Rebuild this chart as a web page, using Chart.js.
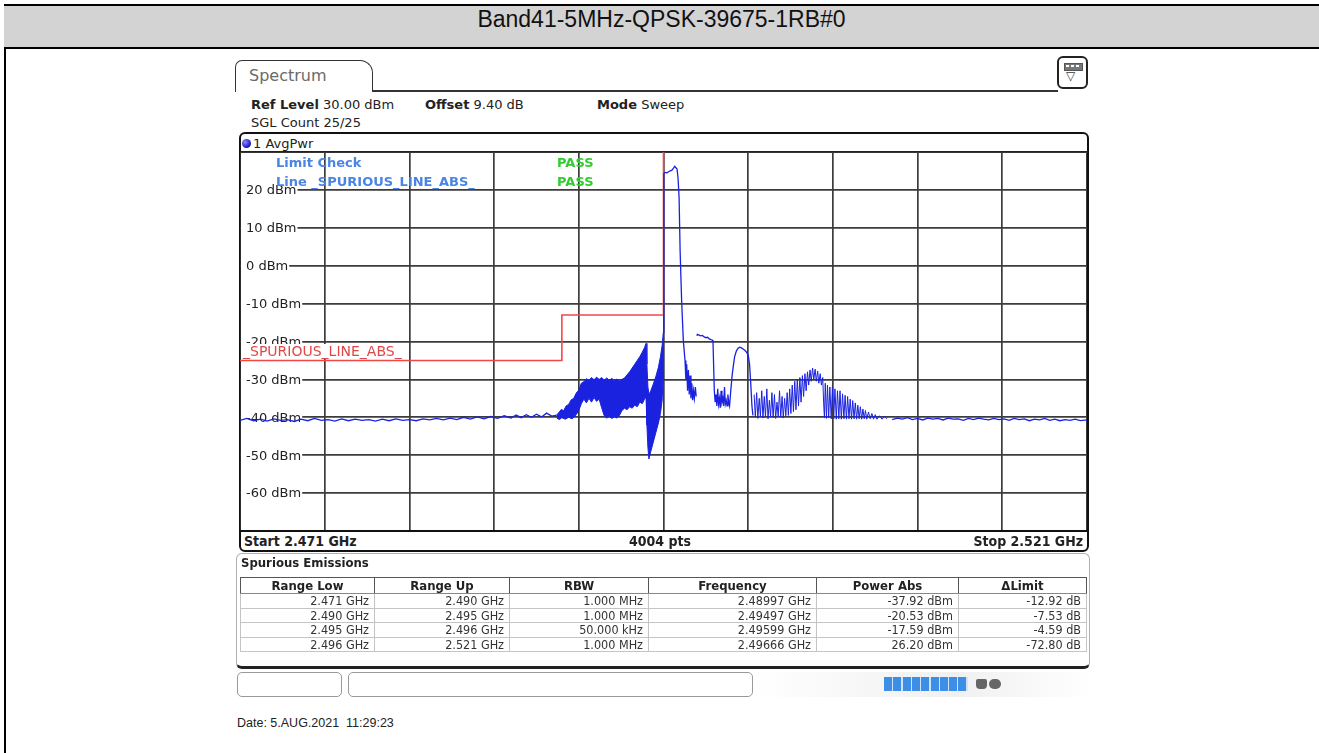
<!DOCTYPE html>
<html>
<head>
<meta charset="utf-8">
<script src="https://cdn.jsdelivr.net/npm/chart.js@4.4.1/dist/chart.umd.min.js"></script>
<style>
  body { margin: 0; width: 1319px; height: 753px; background: #fff; position: relative; overflow: hidden;
         font-family: "DejaVu Sans", sans-serif; color: #222; }
  .abs { position: absolute; white-space: pre; }
  .cond { font-family: "DejaVu Sans Condensed", "DejaVu Sans", sans-serif; font-stretch: condensed; }
  #spurTable { position: absolute; left: 240px; top: 577px; width: 846px; border-collapse: collapse; table-layout: fixed; }
  #spurTable th { height: 15px; padding: 0; font-size: 13px; font-weight: bold; text-align: center;
                  border: 1px solid #555; border-bottom: 1px solid #888; line-height: 15px; }
  #spurTable td { height: 13.5px; padding: 0 5px 0 0; font-size: 12.5px; text-align: right; color: #333;
                  border: 1px solid #c4c4c4; line-height: 13px; }
</style>
</head>
<body>

<!-- title row of the report table -->
<div class="abs" style="left:4px;top:4px;width:2px;height:749px;background:#000"></div>
<div class="abs" style="left:4px;top:4px;width:1315px;height:41px;background:#d3d3d3;border-top:2px solid #000;border-bottom:2px solid #000;"></div>
<div class="abs" id="title" style="left:4px;top:6px;width:1315px;height:41px;line-height:41px;text-align:center;font:23px 'Liberation Sans',Arial,sans-serif;color:#111"></div>

<!-- analyzer tab and header -->
<div class="abs" style="left:235px;top:60px;width:136px;height:31px;border:1.5px solid #333;border-bottom:none;border-radius:7px 13px 0 0;background:#fff;"></div>
<div class="abs" style="left:249px;top:66px;font-size:16px;line-height:20px;color:#6a6a6a">Spectrum</div>
<div class="abs" style="left:372px;top:90px;width:686px;height:1.5px;background:#333"></div>
<div class="abs" style="left:1057px;top:56px;width:31px;height:33px;border:2px solid #222;border-radius:6px;box-sizing:border-box;background:#fff"></div>
<div class="abs" style="left:1064px;top:63px;width:17px;height:6px;background:#777;border:1px solid #555"></div>
<div class="abs" style="left:1066px;top:65px;width:13px;height:2px;background:repeating-linear-gradient(90deg,#fff 0 3px,#777 3px 5px)"></div>
<div class="abs" style="left:1066px;top:69px;font-size:12px;line-height:14px;color:#333">▽</div>

<div class="abs" id="refLine" style="left:251px;top:97px;font-size:13px;line-height:16px"></div>
<div class="abs" id="offLine" style="left:425px;top:97px;font-size:13px;line-height:16px"></div>
<div class="abs" id="modeLine" style="left:597px;top:97px;font-size:13px;line-height:16px"></div>
<div class="abs" id="sglLine" style="left:251px;top:115px;font-size:13px;line-height:16px"></div>

<!-- diagram frame -->
<div class="abs" style="left:239px;top:132px;width:850px;height:420px;border:2px solid #111;border-radius:6px;box-sizing:border-box"></div>
<div class="abs" style="left:240px;top:151px;width:848px;height:2px;background:#222"></div>
<div class="abs" style="left:242px;top:139px;width:9px;height:9px;border-radius:50%;background:radial-gradient(circle at 35% 35%,#8a8aff,#1010c0 70%)"></div>
<div class="abs" style="left:253px;top:136px;font-size:13px;line-height:16px">1 AvgPwr</div>

<canvas id="spec" width="847" height="379" style="position:absolute;left:240px;top:152px"></canvas>

<div class="abs" style="left:276px;top:155px;font-size:13px;font-weight:bold;line-height:16px;color:#4a84e4">Limit Check</div>
<div class="abs" style="left:276px;top:174px;font-size:13px;font-weight:bold;line-height:16px;color:#4a84e4">Line _SPURIOUS_LINE_ABS_</div>
<div class="abs" style="left:557px;top:155px;font-size:13px;font-weight:bold;line-height:16px;color:#30cc30">PASS</div>
<div class="abs" style="left:557px;top:174px;font-size:13px;font-weight:bold;line-height:16px;color:#30cc30">PASS</div>
<div class="abs" style="left:243px;top:344px;font-size:14px;line-height:14px;color:#e04848;background:#fff">_SPURIOUS_LINE_ABS_</div>

<div class="abs" style="left:240px;top:530px;width:848px;height:2px;background:#111"></div>
<div class="abs cond" id="startLbl" style="left:244px;top:533px;font-size:14px;font-weight:bold;line-height:16px"></div>
<div class="abs cond" id="ptsLbl" style="left:560px;top:533px;width:200px;text-align:center;font-size:14px;font-weight:bold;line-height:16px"></div>
<div class="abs cond" id="stopLbl" style="left:883px;top:533px;width:200px;text-align:right;font-size:14px;font-weight:bold;line-height:16px"></div>

<!-- result table -->
<div class="abs" style="left:236px;top:553px;width:854px;height:116px;border:1px solid #b0b0b0;border-bottom:3px solid #222;border-radius:6px;box-sizing:border-box"></div>
<div class="abs cond" style="left:241px;top:555px;font-size:13px;font-weight:bold;line-height:16px">Spurious Emissions</div>
<table id="spurTable" class="cond">
  <colgroup><col style="width:134px"><col style="width:135px"><col style="width:139px"><col style="width:168px"><col style="width:142px"><col style="width:128px"></colgroup>
  <thead><tr><th>Range Low</th><th>Range Up</th><th>RBW</th><th>Frequency</th><th>Power Abs</th><th>ΔLimit</th></tr></thead>
  <tbody id="spurBody"></tbody>
</table>

<!-- softkey strip -->
<div class="abs" style="left:237px;top:672px;width:105px;height:25px;border:1px solid #999;border-radius:5px;box-sizing:border-box"></div>
<div class="abs" style="left:348px;top:672px;width:405px;height:25px;border:1px solid #999;border-radius:5px;box-sizing:border-box"></div>
<div class="abs" style="left:753px;top:672px;width:337px;height:25px;background:linear-gradient(90deg,#fff,#f0f0f0 60%,#fff)"></div>
<div class="abs" style="left:884px;top:677px;width:84px;height:14px;background:repeating-linear-gradient(90deg,#3d8fe6 0 8px,#cfe3fa 8px 9.3px)"></div>
<div class="abs" style="left:976px;top:679px;width:11px;height:10px;border-radius:2px 2px 4px 4px;background:#666"></div>
<div class="abs" style="left:989px;top:679px;width:12px;height:10px;border-radius:5px;background:#666"></div>

<div class="abs" style="left:237px;top:715px;font:12.5px 'Liberation Sans',Arial,sans-serif;line-height:16px;color:#222">Date: 5.AUG.2021&nbsp; 11:29:23</div>

<script>
// sweep set-up
const titleText = 'Band41-5MHz-QPSK-39675-1RB#0';
const startMHz = 2471;
const stopMHz = 2521;
const sweepPoints = 4004;
const refLevel = 30;
const bottomLevel = -70;
const levelTicks = [20, 10, 0, -10, -20, -30, -40, -50, -60];

// spurious emission ranges (table + limit line)
const rangeLowMHz = [2471, 2490, 2495, 2496];
const rangeUpMHz = [2490, 2495, 2496, 2521];
const rbwKHz = [1000, 1000, 50, 1000];
const peakFreqMHz = [2489.97, 2494.97, 2495.99, 2496.66];
const powerAbs = [-37.92, -20.53, -17.59, 26.20];
const deltaLimit = [-12.92, -7.53, -4.59, -72.80];
const limitDbm = [-25, -13, -13, 99];

// trace: [MHz, dBm]
const floorLeft = [
  [2471.0,-40.8],[2471.4,-40.3],[2471.8,-40.9],[2472.2,-40.5],[2472.6,-41.0],[2473.0,-40.4],[2473.4,-40.8],
  [2473.8,-40.6],[2474.2,-41.1],[2474.6,-40.5],[2475.0,-40.9],[2475.4,-40.3],[2475.8,-40.8],[2476.2,-40.6],
  [2476.6,-41.0],[2477.0,-40.4],[2477.4,-40.9],[2477.8,-40.5],[2478.2,-40.8],[2478.6,-40.6],[2479.0,-41.0],
  [2479.4,-40.5],[2479.8,-40.9],[2480.2,-40.4],[2480.6,-40.8],[2481.0,-40.6],[2481.4,-40.9],[2481.8,-40.4],
  [2482.2,-40.7],[2482.6,-40.3],[2483.0,-40.7],[2483.4,-40.2],[2483.8,-40.6],[2484.2,-40.0],[2484.6,-40.5],
  [2485.0,-39.9],[2485.4,-40.4],[2485.8,-39.8],[2486.2,-40.3],[2486.6,-39.6],[2487.0,-40.2],[2487.3,-39.4],
  [2487.6,-40.1],[2487.9,-39.3],[2488.2,-40.0],[2488.5,-39.2],[2488.8,-39.9],[2489.1,-38.9],[2489.4,-39.7],
  [2489.7,-39.4]
];
const bandUpper = [
  [2489.7,-39.4],[2489.85,-38.6],[2489.97,-37.9],[2490.1,-38.3],[2490.25,-37.0],[2490.4,-36.6],[2490.55,-35.4],
  [2490.7,-35.0],[2490.85,-33.6],[2491.0,-32.8],[2491.15,-31.0],[2491.3,-30.6],[2491.45,-29.8],[2491.6,-30.3],
  [2491.75,-29.5],[2491.9,-30.1],[2492.05,-29.4],[2492.2,-30.0],[2492.35,-29.5],[2492.5,-30.2],[2492.65,-29.6],
  [2492.8,-30.3],[2492.95,-29.7],[2493.1,-30.4],[2493.25,-29.9],[2493.4,-30.5],[2493.55,-30.0],[2493.7,-29.6],
  [2493.85,-28.8],[2494.0,-28.0],[2494.15,-27.0],[2494.3,-26.0],[2494.45,-25.0],[2494.6,-24.0],[2494.75,-22.8],
  [2494.88,-21.6],[2494.97,-20.5],[2495.02,-26.0],[2495.08,-32.0],[2495.14,-34.0],[2495.25,-33.0],[2495.4,-31.2],
  [2495.55,-29.2],[2495.7,-26.8],[2495.82,-24.0],[2495.92,-21.0],[2495.99,-17.6]
];
const bandLower = [
  [2489.7,-40.2],[2489.85,-40.6],[2490.0,-40.1],[2490.2,-40.5],[2490.4,-40.0],[2490.6,-40.4],[2490.8,-39.6],
  [2491.0,-38.2],[2491.15,-36.4],[2491.3,-35.2],[2491.45,-36.2],[2491.6,-35.0],[2491.75,-36.0],[2491.9,-34.8],
  [2492.05,-35.8],[2492.2,-35.2],[2492.35,-37.5],[2492.5,-39.6],[2492.65,-40.2],[2492.8,-39.8],[2492.95,-40.3],
  [2493.1,-39.9],[2493.25,-40.2],[2493.4,-39.5],[2493.55,-38.2],[2493.7,-37.6],[2493.85,-38.0],[2494.0,-37.2],
  [2494.15,-37.6],[2494.3,-36.8],[2494.45,-37.2],[2494.6,-36.0],[2494.75,-36.4],[2494.88,-35.2],[2494.97,-34.8],
  [2495.02,-42.0],[2495.08,-48.0],[2495.14,-51.0],[2495.25,-49.0],[2495.4,-46.5],[2495.55,-44.0],[2495.7,-41.5],
  [2495.82,-39.0],[2495.92,-35.5],[2495.99,-28.0]
];
const carrier = [
  [2495.99,-17.6],[2496.02,24.3],[2496.1,24.6],[2496.2,24.5],[2496.3,24.8],[2496.4,25.0],[2496.5,25.2],
  [2496.6,25.8],[2496.66,26.2],[2496.72,25.9],[2496.8,25.5],[2496.86,23.0],[2496.92,18.0],[2496.98,4.0],
  [2497.07,-9.2],[2497.17,-19.7],[2497.27,-25.0],[2497.32,-30.0],[2497.37,-26.0],[2497.42,-33.0],[2497.47,-27.5],
  [2497.52,-34.0],[2497.57,-29.0],[2497.62,-35.0],[2497.67,-31.0],[2497.72,-35.5],[2497.77,-33.0],[2497.82,-35.0],
  [2497.88,-32.0],[2497.93,-34.5]
];
const sideBands = [
  [2497.97,-18.5],[2498.0,-18.1],[2498.1,-18.3],[2498.2,-18.5],[2498.3,-18.4],[2498.4,-18.8],[2498.5,-19.0],
  [2498.6,-18.9],[2498.7,-19.3],[2498.8,-19.5],[2498.87,-19.6],[2498.92,-19.8],[2499.0,-33.0],[2499.05,-36.0],
  [2499.1,-34.0],[2499.15,-37.0],[2499.2,-32.5],[2499.25,-36.5],[2499.3,-35.0],[2499.35,-37.5],[2499.4,-33.0],
  [2499.45,-36.0],[2499.5,-35.0],[2499.55,-37.0],[2499.6,-32.0],[2499.65,-36.5],[2499.7,-35.5],[2499.75,-37.0],
  [2499.8,-34.0],[2499.85,-36.0],[2499.9,-37.0],[2499.97,-33.0],[2500.05,-29.0],[2500.12,-26.5],[2500.2,-24.0],
  [2500.3,-22.5],[2500.4,-21.8],[2500.5,-21.5],[2500.6,-21.7],[2500.7,-22.0],[2500.8,-22.3],[2500.9,-22.8],
  [2501.0,-23.6],[2501.08,-26.0],[2501.15,-31.0],[2501.22,-37.0],[2501.28,-39.5]
];
const spurSpikes = [
  [2501.35,-34.0],[2501.42,-40.0],[2501.5,-33.5],[2501.57,-40.3],[2501.65,-35.0],[2501.72,-39.8],[2501.8,-33.0],
  [2501.87,-40.2],[2501.95,-34.5],[2502.02,-40.0],[2502.1,-32.5],[2502.17,-40.4],[2502.25,-35.5],[2502.32,-39.9],
  [2502.4,-33.5],[2502.47,-40.1],[2502.55,-34.0],[2502.62,-40.3],[2502.7,-36.0],[2502.77,-39.8],[2502.85,-33.0],
  [2502.92,-40.0],[2503.0,-34.5],[2503.07,-40.2],[2503.15,-35.0],[2503.22,-39.6],[2503.3,-33.5],[2503.37,-39.5],
  [2503.45,-32.5],[2503.52,-39.0],[2503.6,-31.5],[2503.67,-38.5],[2503.75,-30.5],[2503.82,-38.0],[2503.9,-30.0],
  [2503.97,-37.0],[2504.05,-29.5],[2504.12,-36.0],[2504.2,-29.0],[2504.27,-34.5],[2504.35,-28.5],[2504.42,-33.0],
  [2504.5,-28.0],[2504.57,-31.5],[2504.65,-27.5],[2504.72,-30.5],[2504.8,-27.0],[2504.87,-30.0],[2504.95,-27.3],
  [2505.02,-30.5],[2505.1,-27.8],[2505.17,-31.0],[2505.25,-28.5],[2505.32,-31.5],[2505.4,-29.5],[2505.45,-36.0],
  [2505.5,-40.2],[2505.55,-31.0],[2505.62,-40.3],[2505.68,-31.5],[2505.75,-40.2],[2505.82,-32.0],[2505.9,-40.4],
  [2505.97,-32.0],[2506.05,-40.4],[2506.12,-32.5],[2506.2,-40.5],[2506.27,-33.0],[2506.35,-40.4],[2506.42,-33.0],
  [2506.5,-40.5],[2506.57,-33.8],[2506.65,-40.4],[2506.72,-34.2],[2506.8,-40.5],[2506.87,-34.5],[2506.95,-40.4],
  [2507.02,-35.2],[2507.1,-40.5],[2507.17,-35.6],[2507.25,-40.4],[2507.32,-36.2],[2507.4,-40.5],[2507.47,-36.8],
  [2507.55,-40.4],[2507.62,-37.2],[2507.7,-40.5],[2507.77,-37.8],[2507.85,-40.4],[2507.92,-38.2],[2508.0,-40.5],
  [2508.1,-38.6],[2508.2,-40.4],[2508.3,-39.0],[2508.4,-40.5],[2508.5,-39.3],[2508.6,-40.5],[2508.75,-39.6],
  [2508.9,-40.5],[2509.05,-39.8],[2509.2,-40.4]
];
const floorRight = [
  [2509.5,-40.6],[2509.8,-40.2],[2510.1,-40.5],[2510.4,-40.1],[2510.7,-40.6],[2511.0,-40.3],[2511.3,-40.7],
  [2511.6,-40.2],[2511.9,-40.5],[2512.2,-40.3],[2512.5,-40.7],[2512.8,-40.2],[2513.1,-40.5],[2513.4,-40.4],
  [2513.7,-40.8],[2514.0,-40.3],[2514.3,-40.6],[2514.6,-40.2],[2514.9,-40.5],[2515.2,-40.7],[2515.5,-40.3],
  [2515.8,-40.6],[2516.1,-40.4],[2516.4,-40.8],[2516.7,-40.3],[2517.0,-40.6],[2517.3,-40.4],[2517.6,-40.9],
  [2517.9,-40.5],[2518.2,-40.7],[2518.5,-40.3],[2518.8,-40.8],[2519.1,-40.5],[2519.4,-40.9],[2519.7,-40.6],
  [2520.0,-40.8],[2520.3,-40.5],[2520.6,-40.9],[2521.0,-40.7]
];

const TRACE = '#1a22e0';
const LIMIT = '#f04848';
const GRID = '#3c3c3c';

const xy = pts => pts.map(p => ({ x: p[0], y: p[1] }));
const ghz = mhz => (mhz / 1000).toFixed(3) + ' GHz';

// header texts
document.getElementById('title').textContent = titleText;
document.getElementById('refLine').innerHTML = '<b>Ref Level</b> ' + refLevel.toFixed(2) + ' dBm';
document.getElementById('offLine').innerHTML = '<b>Offset</b> 9.40 dB';
document.getElementById('modeLine').innerHTML = '<b>Mode</b> Sweep';
document.getElementById('sglLine').textContent = 'SGL Count 25/25';
document.getElementById('startLbl').textContent = 'Start ' + ghz(startMHz);
document.getElementById('ptsLbl').textContent = sweepPoints + ' pts';
document.getElementById('stopLbl').textContent = 'Stop ' + ghz(stopMHz);

// result table
document.getElementById('spurBody').innerHTML = rangeLowMHz.map((lo, i) => {
  const rbw = rbwKHz[i] >= 1000 ? (rbwKHz[i] / 1000).toFixed(3) + ' MHz' : rbwKHz[i].toFixed(3) + ' kHz';
  return `<tr><td>${ghz(lo)}</td><td>${ghz(rangeUpMHz[i])}</td><td>${rbw}</td>` +
         `<td>${(peakFreqMHz[i] / 1000).toFixed(5)} GHz</td><td>${powerAbs[i].toFixed(2)} dBm</td>` +
         `<td>${deltaLimit[i].toFixed(2)} dB</td></tr>`;
}).join('');

// stepped limit line from the range table
const limitPts = [];
rangeLowMHz.forEach((lo, i) => {
  limitPts.push({ x: lo, y: limitDbm[i] });
  limitPts.push({ x: rangeUpMHz[i], y: limitDbm[i] });
});

// dBm labels sit inside the grid, on a white patch, under the trace
const levelLabels = {
  id: 'levelLabels',
  beforeDatasetsDraw(chart) {
    const { ctx, chartArea, scales: { y } } = chart;
    ctx.save();
    ctx.font = '13px "DejaVu Sans"';
    ctx.textBaseline = 'middle';
    levelTicks.forEach(v => {
      const py = y.getPixelForValue(v);
      const txt = v + ' dBm';
      const w = ctx.measureText(txt).width;
      ctx.fillStyle = '#fff';
      ctx.fillRect(chartArea.left + 1, py - 7, w + 6, 14);
      ctx.fillStyle = '#222';
      ctx.fillText(txt, chartArea.left + 6, py + 1);
    });
    ctx.restore();
  }
};

const lineSet = (data, extra) => Object.assign({
  data, showLine: true, borderColor: TRACE, borderWidth: 1.3, pointRadius: 0, tension: 0, fill: false
}, extra);

new Chart(document.getElementById('spec'), {
  type: 'scatter',
  data: {
    datasets: [
      lineSet(xy(bandUpper), { borderWidth: 1 }),
      lineSet(xy(bandLower), { borderWidth: 1, fill: '-1', backgroundColor: TRACE }),
      lineSet(xy(floorLeft)),
      lineSet(xy(carrier)),
      lineSet(xy(sideBands)),
      lineSet(xy(spurSpikes), { borderWidth: 1 }),
      lineSet(xy(floorRight)),
      lineSet(limitPts, { borderColor: LIMIT, borderWidth: 1.6 })
    ]
  },
  options: {
    responsive: false,
    animation: false,
    layout: { padding: 0 },
    plugins: { legend: { display: false }, tooltip: { enabled: false } },
    scales: {
      x: {
        type: 'linear', min: startMHz, max: stopMHz,
        ticks: { display: false, stepSize: 5 },
        grid: { color: GRID, lineWidth: 1.7, drawTicks: false },
        border: { display: false }
      },
      y: {
        min: bottomLevel, max: refLevel,
        ticks: { display: false, stepSize: 10 },
        grid: { color: GRID, lineWidth: 1.7, drawTicks: false },
        border: { display: false }
      }
    }
  },
  plugins: [levelLabels]
});
</script>
</body>
</html>
